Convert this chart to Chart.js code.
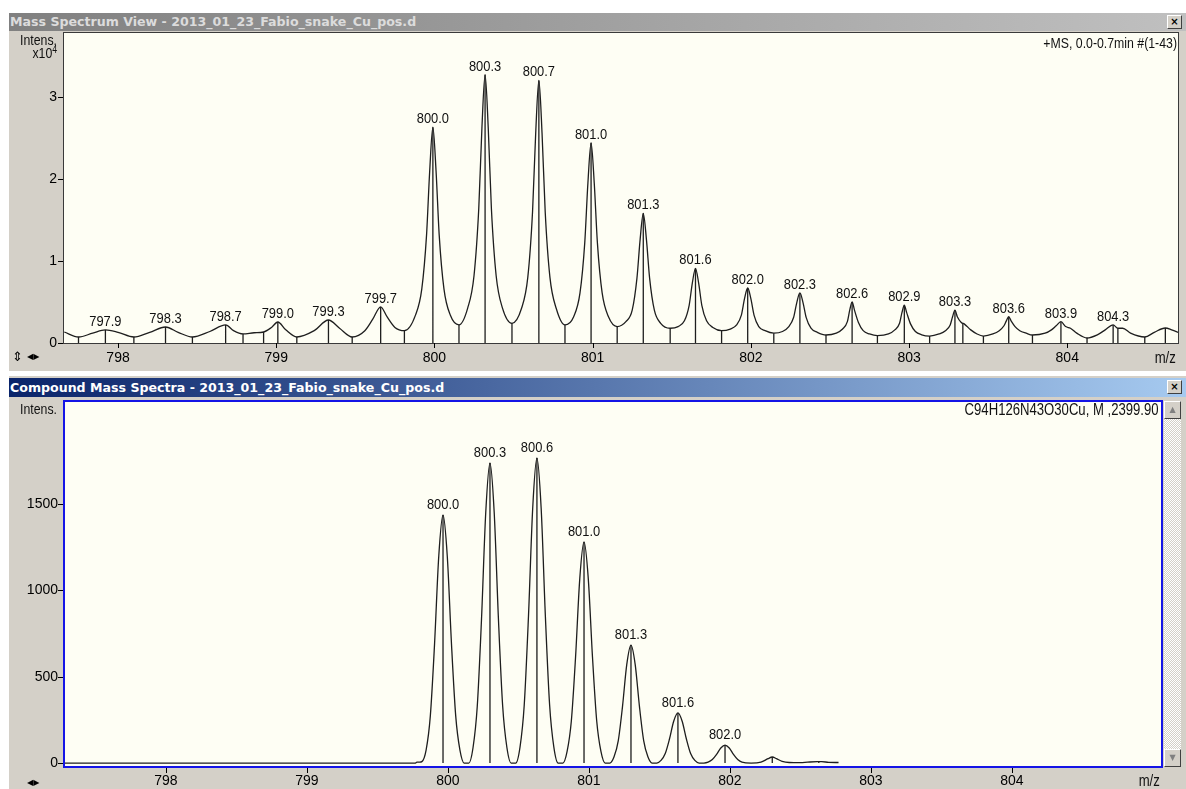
<!DOCTYPE html>
<html>
<head>
<meta charset="utf-8">
<script src="https://cdn.jsdelivr.net/npm/chart.js@4.4.1/dist/chart.umd.min.js"></script>
<style>
  body { margin: 0; width: 1186px; height: 789px; overflow: hidden; position: relative; background: #fff;
         font-family: "Liberation Sans", Arial, sans-serif; }
  .win { position: absolute; left: 9px; width: 1177px; background: #d4d0c8; }
  .title { position: absolute; left: 9px; width: 1177px; height: 18px; color: #fff;
           font: bold 12.6px "DejaVu Sans", sans-serif; line-height: 18px; padding-left: 1px; box-sizing: border-box; white-space: nowrap; }
  .title.inactive { background: linear-gradient(to right, #808080, #c0c0c0); color: #dcdcdc; }
  .title.active { background: linear-gradient(to right, #0a246a, #a6caf0); }
  .close { position: absolute; right: 4px; top: 2px; width: 13px; height: 12px; background: #d4d0c8;
           border: 1px solid; border-color: #fff #404040 #404040 #fff; color: #000;
           font: bold 10px "DejaVu Sans", sans-serif; line-height: 11px; text-align: center; }
  canvas { position: absolute; left: 0; }
  .txt { position: absolute; font-size: 16px; line-height: 16px; color: #111; white-space: nowrap; z-index: 2;
         transform: scaleX(0.82); }
  .txt.r { transform-origin: right center; text-align: right; }
  .txt.small { font-size: 14px; line-height: 14px; transform: scaleX(0.88); }
  .icon { position: absolute; font: 10px "DejaVu Sans", sans-serif; color: #000; }
  .scroll { position: absolute; left: 1164px; top: 401px; width: 17px; height: 366px;
            background: repeating-conic-gradient(#fff 0 25%, #d4d0c8 0 50%) 0 0 / 2px 2px; }
  .sbtn { position: absolute; left: 0; width: 15px; height: 16px; background: #d4d0c8;
          border: 1px solid; border-color: #fff #404040 #404040 #fff; color: #808080;
          font: 8px "DejaVu Sans", sans-serif; line-height: 16px; text-align: center; }
</style>
</head>
<body>
  <div class="win" style="top:13px; height:358px;"></div>
  <div class="win" style="top:375px; height:414px; border-top:1px solid #fff;"></div>

  <div class="title inactive" style="top:13px;">Mass Spectrum View - 2013_01_23_Fabio_snake_Cu_pos.d<div class="close">×</div></div>
  <div class="title active" style="top:378px; height:19px; line-height:19px;">Compound Mass Spectra - 2013_01_23_Fabio_snake_Cu_pos.d<div class="close">×</div></div>

  <canvas id="topChart" width="1186" height="340" style="top:31px;"></canvas>
  <canvas id="bottomChart" width="1186" height="392" style="top:397px;"></canvas>

  <div class="txt r" style="right:9px; top:35px; font-size:15px;">+MS, 0.0-0.7min #(1-43)</div>
  <div class="txt r small" style="right:1129px; top:33px;">Intens.</div>
  <div class="txt r small" style="right:1129px; top:46px;">x10<sup style="font-size:10px; vertical-align:5px; line-height:0;">4</sup></div>
  <div class="txt r" style="right:27px; top:402px;">C94H126N43O30Cu, M ,2399.90</div>
  <div class="txt r small" style="right:1129px; top:402px;">Intens.</div>
  <div class="txt r" style="right:10px; top:350px;">m/z</div>
  <div class="txt r" style="right:26px; top:773px;">m/z</div>

  <div class="icon" style="left:12px; top:349px; font-size:13px;">⇕</div>
  <div class="icon" style="left:27px; top:352px; font-size:8px;">◀▶</div>
  <div class="icon" style="left:27px; top:778px; font-size:8px;">◀▶</div>

  <div class="scroll">
    <div class="sbtn" style="top:0;">▲</div>
    <div class="sbtn" style="bottom:0;">▼</div>
  </div>

<script>
const topMz = [
  797.66, 797.75, 797.84, 797.92, 798.00, 798.10, 798.20, 798.30, 798.38, 798.47,
  798.58, 798.68, 798.73, 798.79, 798.86, 798.92, 798.97, 799.01, 799.06, 799.13,
  799.24, 799.33, 799.40, 799.48, 799.56, 799.61, 799.66, 799.70, 799.75, 799.81,
  799.88, 799.92, 799.95, 799.97, 799.99, 800.01, 800.03, 800.06, 800.10, 800.155,
  800.21, 800.25, 800.28, 800.30, 800.32, 800.34, 800.36, 800.39, 800.43, 800.49,
  800.55, 800.59, 800.62, 800.64, 800.66, 800.68, 800.70, 800.73, 800.77, 800.825,
  800.88, 800.92, 800.95, 800.97, 800.99, 801.01, 801.03, 801.06, 801.10, 801.155,
  801.21, 801.25, 801.28, 801.30, 801.32, 801.34, 801.36, 801.39, 801.43, 801.49,
  801.54, 801.58, 801.61, 801.63, 801.65, 801.67, 801.69, 801.72, 801.76, 801.815,
  801.87, 801.91, 801.94, 801.96, 801.98, 802.00, 802.02, 802.05, 802.09, 802.145,
  802.20, 802.24, 802.27, 802.29, 802.31, 802.33, 802.35, 802.38, 802.42, 802.475,
  802.54, 802.58, 802.61, 802.625, 802.64, 802.655, 802.68, 802.71, 802.75, 802.80,
  802.87, 802.91, 802.94, 802.955, 802.97, 802.985, 803.01, 803.04, 803.08, 803.13,
  803.19, 803.23, 803.26, 803.275, 803.29, 803.305, 803.33, 803.35, 803.39, 803.43, 803.47,
  803.53, 803.57, 803.60, 803.615, 803.63, 803.645, 803.67, 803.70, 803.74, 803.78,
  803.86, 803.90, 803.93, 803.96, 803.99, 804.02, 804.06, 804.125,
  804.19, 804.24, 804.29, 804.32, 804.35, 804.40, 804.49,
  804.55, 804.62, 804.66, 804.71
];
const topIntens = [
  1340, 730, 1200, 1590, 1300, 730, 1300, 1950, 1300, 730,
  1400, 2200, 1500, 1100, 1250, 1340, 1900, 2560, 1600, 730,
  1500, 2800, 1800, 730, 1500, 2900, 4400, 3200, 1900, 1500,
  3400, 6600, 13150, 21000, 26300, 21000, 13150, 6600, 3400, 2200,
  4250, 8200, 16350, 26200, 32700, 26200, 16350, 8200, 4250, 2400,
  4200, 8000, 16000, 25600, 32000, 25600, 16000, 8000, 4200, 2200,
  3200, 6100, 12200, 19500, 24400, 19500, 12200, 6100, 3200, 2000,
  2600, 4000, 7900, 12600, 15800, 12600, 7900, 4000, 2400, 1800,
  2000, 2700, 4600, 7300, 9100, 7300, 4600, 2700, 1900, 1500,
  1700, 2200, 3400, 5400, 6700, 5400, 3400, 2000, 1500, 1200,
  1400, 2000, 3100, 4900, 6100, 4900, 3100, 1800, 1300, 975,
  1200, 1700, 2600, 4000, 5000, 4000, 2500, 1500, 1100, 900,
  1100, 1600, 2400, 3700, 4600, 3700, 2300, 1400, 1000, 850,
  1100, 1500, 2200, 3200, 4000, 3200, 2500, 2300, 1600, 1100, 850,
  1100, 1500, 2100, 2700, 3200, 2700, 2000, 1500, 1200, 975,
  1200, 1600, 2100, 2600, 2000, 1800, 1200, 610,
  1000, 1600, 2200, 1800, 1800, 1200, 730,
  1300, 1830, 1600, 1220
];

// Picos rotulados do espectro medido
const topPeakMz = [797.92, 798.30, 798.68, 799.01, 799.33, 799.66, 799.99, 800.32, 800.66, 800.99,
                   801.32, 801.65, 801.98, 802.31, 802.64, 802.97, 803.29, 803.63, 803.96, 804.29];
const topPeakIntens = [1590, 1950, 2200, 2560, 2800, 4400, 26300, 32700, 32000, 24400,
                       15800, 9100, 6700, 6100, 5000, 4600, 4000, 3200, 2600, 2200];
const topPeakLabels = ['797.9', '798.3', '798.7', '799.0', '799.3', '799.7', '800.0', '800.3', '800.7', '801.0',
                       '801.3', '801.6', '802.0', '802.3', '802.6', '802.9', '803.3', '803.6', '803.9', '804.3'];

// Marcas sem rótulo (vales e ombros)
const topMarkMz = [797.75, 798.10, 798.47, 798.79, 798.92, 799.13, 799.48, 799.81, 800.155, 800.49,
                   800.825, 801.155, 801.49, 801.815, 802.145, 802.475, 802.80, 803.13, 803.34, 803.47,
                   803.78, 804.125, 804.32, 804.49, 804.62];
const topMarkIntens = [730, 730, 730, 1100, 1340, 730, 730, 1500, 2200, 2400,
                       2200, 2000, 1800, 1500, 1200, 975, 900, 850, 2400, 850,
                       975, 610, 1800, 730, 1830];

// Eixos do espectro medido
const topXMajor = [798, 799, 800, 801, 802, 803, 804];
const topXLabels = ['798', '799', '800', '801', '802', '803', '804'];
const topYMajor = [0, 10000, 20000, 30000];
const topYLabels = ['0', '1', '2', '3'];

// Espectro calculado (Compound Mass Spectra)
const botMz = [
  797.28, 799.77, 799.78, 799.80, 799.815, 799.845, 799.875, 799.905, 799.935, 799.965,
  799.995, 800.025, 800.055, 800.085, 800.115, 800.148, 800.178, 800.208, 800.238, 800.268,
  800.298, 800.328, 800.358, 800.388, 800.418, 800.448, 800.481, 800.511, 800.541, 800.571,
  800.601, 800.631, 800.661, 800.691, 800.721, 800.751, 800.781, 800.815, 800.845, 800.875,
  800.905, 800.935, 800.965, 800.995, 801.025, 801.055, 801.085, 801.115, 801.148, 801.178,
  801.208, 801.238, 801.268, 801.298, 801.328, 801.358, 801.388, 801.418, 801.448, 801.481,
  801.511, 801.541, 801.571, 801.601, 801.631, 801.661, 801.691, 801.721, 801.751, 801.781,
  801.815, 801.845, 801.875, 801.905, 801.935, 801.965, 801.995, 802.025, 802.055, 802.085,
  802.15, 802.22, 802.27, 802.30, 802.33, 802.37, 802.42, 802.50, 802.55, 802.62,
  802.65, 802.70, 802.77
];
const botIntens = [
  0, 0, 5, 5, 8, 75, 273, 690, 1200, 1436,
  1200, 690, 273, 75, 0, 0, 90, 330, 834, 1450,
  1737, 1450, 834, 330, 90, 0, 0, 92, 336, 848,
  1475, 1766, 1475, 848, 336, 92, 0, 0, 67, 243,
  614, 1069, 1280, 1069, 614, 243, 67, 0, 0, 36,
  130, 328, 570, 683, 570, 328, 130, 36, 0, 0,
  15, 55, 139, 242, 290, 242, 139, 55, 15, 0,
  0, 5, 20, 50, 87, 104, 87, 50, 20, 5,
  0, 5, 25, 35, 25, 10, 3, 2, 5, 8,
  8, 4, 3
];

// Picos rotulados e marcas do espectro calculado
const botPeakMz = [799.965, 800.298, 800.631, 800.965, 801.298, 801.631, 801.965];
const botPeakIntens = [1436, 1737, 1766, 1280, 683, 290, 104];
const botPeakLabels = ['800.0', '800.3', '800.6', '801.0', '801.3', '801.6', '802.0'];
const botMarkMz = [802.30, 802.63];
const botMarkIntens = [35, 8];

// Eixos do espectro calculado
const botXMajor = [798, 799, 800, 801, 802, 803, 804];
const botXLabels = ['798', '799', '800', '801', '802', '803', '804'];
const botYMajor = [0, 500, 1000, 1500];
const botYLabels = ['0', '500', '1000', '1500'];

document.addEventListener('DOMContentLoaded', () => {

    const tickFont = { family: '"Liberation Sans", Arial, sans-serif', size: 14, lineHeight: 1 };

    // Monta pontos {x, y} a partir de dois arrays
    function toPoints(xs, ys) {
        return xs.map((x, i) => ({ x, y: ys[i] }));
    }

    // Monta as marcas verticais (do zero até o valor), separadas por null
    function toSticks(xs, ys) {
        const pts = [];
        xs.forEach((x, i) => { pts.push({ x, y: 0 }, { x, y: ys[i] }, { x, y: null }); });
        return pts;
    }

    // Gera a lista de ticks (maiores e menores) de uma escala
    function buildTicks(majors, minorStep, min, max) {
        return (axis) => {
            const list = [];
            const start = Math.ceil(min / minorStep - 1e-6);
            const end = Math.floor(max / minorStep + 1e-6);
            for (let k = start; k <= end; k++) {
                const v = +(k * minorStep).toFixed(4);
                const major = majors.some(m => Math.abs(m - v) < 1e-6);
                list.push({ value: v, major });
            }
            axis.ticks = list;
        };
    }

    // Rótulo só nos ticks maiores
    function tickLabel(majors, labels) {
        return (value) => {
            const i = majors.findIndex(m => Math.abs(m - value) < 1e-6);
            return i >= 0 ? labels[i] : null;
        };
    }

    // Fundo e moldura da área do gráfico
    function framePlugin(bg, color, width) {
        return {
            id: 'frame',
            beforeDraw(chart) {
                const a = chart.chartArea;
                chart.ctx.save();
                chart.ctx.fillStyle = bg;
                chart.ctx.fillRect(a.left, a.top, a.right - a.left, a.bottom - a.top);
                chart.ctx.restore();
            },
            afterDraw(chart) {
                const a = chart.chartArea;
                const ctx = chart.ctx;
                ctx.save();
                ctx.strokeStyle = color;
                ctx.lineWidth = width;
                const o = width % 2 ? 0.5 : 0;
                ctx.strokeRect(a.left + o, a.top + o, a.right - a.left, a.bottom - a.top);
                ctx.restore();
            }
        };
    }

    // Marcas de tick desenhadas fora da área (maiores mais longas)
    function tickMarkPlugin(offset) {
        return {
            id: 'tickMarks',
            afterDraw(chart) {
                const { ctx, chartArea, scales } = chart;
                ctx.save();
                ctx.strokeStyle = '#000';
                ctx.lineWidth = 1;
                ctx.beginPath();
                scales.x.ticks.forEach(t => {
                    const px = Math.round(scales.x.getPixelForValue(t.value)) + 0.5;
                    const y0 = chartArea.bottom + offset;
                    ctx.moveTo(px, y0);
                    ctx.lineTo(px, y0 + (t.major ? 5 : 3));
                });
                scales.y.ticks.forEach(t => {
                    const py = Math.round(scales.y.getPixelForValue(t.value)) + 0.5;
                    const x0 = chartArea.left - offset;
                    ctx.moveTo(x0, py);
                    ctx.lineTo(x0 - (t.major ? 5 : 3), py);
                });
                ctx.stroke();
                ctx.restore();
            }
        };
    }

    // Rótulos de m/z acima dos picos (fonte estreitada)
    function peakLabelPlugin(mzs, ints, texts, gap) {
        return {
            id: 'peakLabels',
            afterDatasetsDraw(chart) {
                const { ctx, scales } = chart;
                mzs.forEach((mz, i) => {
                    ctx.save();
                    ctx.translate(scales.x.getPixelForValue(mz), scales.y.getPixelForValue(ints[i]) - gap);
                    ctx.scale(0.86, 1);
                    ctx.font = '15px "Liberation Sans", Arial, sans-serif';
                    ctx.fillStyle = '#111';
                    ctx.textAlign = 'center';
                    ctx.textBaseline = 'alphabetic';
                    ctx.fillText(texts[i], 0, 0);
                    ctx.restore();
                });
            }
        };
    }

    // Cria um painel de espectro
    function makeSpectrum(canvasId, cfg) {
        return new Chart(document.getElementById(canvasId), {
            type: 'line',
            data: {
                datasets: [{
                    data: toPoints(cfg.mz, cfg.intens),
                    borderColor: '#1e1e1e',
                    borderWidth: 1.3,
                    pointRadius: 0,
                    cubicInterpolationMode: 'monotone',
                    clip: 0
                }, {
                    data: toSticks(cfg.peakMz.concat(cfg.markMz), cfg.peakIntens.concat(cfg.markIntens)),
                    borderColor: '#1e1e1e',
                    borderWidth: 1.3,
                    pointRadius: 0,
                    tension: 0,
                    spanGaps: false,
                    clip: 0
                }]
            },
            options: {
                responsive: false,
                animation: false,
                events: [],
                layout: { padding: cfg.padding },
                plugins: { legend: { display: false }, tooltip: { enabled: false } },
                scales: {
                    x: {
                        type: 'linear', min: cfg.xMin, max: cfg.xMax,
                        grid: { display: false, drawTicks: false }, border: { display: false },
                        afterBuildTicks: buildTicks(cfg.xMajor, 0.2, cfg.xMin, cfg.xMax),
                        afterFit: (s) => { s.height = cfg.xHeight; s.paddingLeft = 0; s.paddingRight = 0; },
                        ticks: { autoSkip: false, maxRotation: 0, padding: cfg.xPad, color: '#000', font: tickFont,
                                 callback: tickLabel(cfg.xMajor, cfg.xLabels) }
                    },
                    y: {
                        type: 'linear', min: cfg.yMin, max: cfg.yMax,
                        grid: { display: false, drawTicks: false }, border: { display: false },
                        afterBuildTicks: buildTicks(cfg.yMajor, cfg.yStep, Math.max(cfg.yMin, 0), cfg.yMax),
                        afterFit: (s) => { s.width = cfg.yWidth; s.paddingTop = 0; s.paddingBottom = 0; },
                        ticks: { autoSkip: false, padding: 6, color: '#000', font: tickFont,
                                 callback: tickLabel(cfg.yMajor, cfg.yLabels) }
                    }
                }
            },
            plugins: [
                framePlugin('#fefef4', cfg.frameColor, cfg.frameWidth),
                tickMarkPlugin(cfg.tickOffset),
                peakLabelPlugin(cfg.peakMz, cfg.peakIntens, cfg.peakLabels, cfg.labelGap)
            ]
        });
    }

    makeSpectrum('topChart', {
        mz: topMz, intens: topIntens,
        peakMz: topPeakMz, peakIntens: topPeakIntens, peakLabels: topPeakLabels,
        markMz: topMarkMz, markIntens: topMarkIntens,
        xMin: 797.652, xMax: 804.70, xMajor: topXMajor, xLabels: topXLabels,
        yMin: 0, yMax: 37900, yStep: 2000, yMajor: topYMajor, yLabels: topYLabels,
        padding: { top: 1, right: 8, left: 0, bottom: 0 },
        xHeight: 28, yWidth: 63, xPad: 8, tickOffset: 0, labelGap: 4,
        frameColor: '#3a3a3a', frameWidth: 1
    });

    makeSpectrum('bottomChart', {
        mz: botMz, intens: botIntens,
        peakMz: botPeakMz, peakIntens: botPeakIntens, peakLabels: botPeakLabels,
        markMz: botMarkMz, markIntens: botMarkIntens,
        xMin: 797.277, xMax: 805.064, xMajor: botXMajor, xLabels: botXLabels,
        yMin: -23, yMax: 2096, yStep: 100, yMajor: botYMajor, yLabels: botYLabels,
        padding: { top: 4, right: 24, left: 0, bottom: 0 },
        xHeight: 22, yWidth: 64, xPad: 7, tickOffset: 1, labelGap: 6,
        frameColor: '#1414e6', frameWidth: 2
    });
});
</script>
</body>
</html>
